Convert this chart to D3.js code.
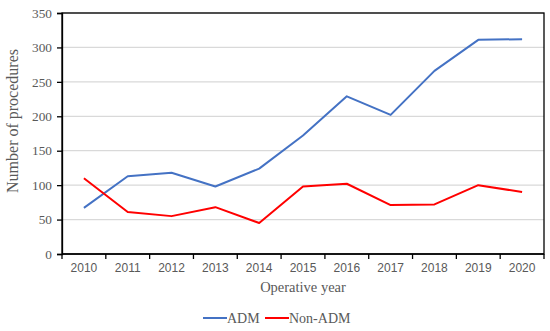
<!DOCTYPE html>
<html>
<head>
<meta charset="utf-8">
<script src="https://cdn.jsdelivr.net/npm/d3@7/dist/d3.min.js"></script>
<style>
  body { margin: 0; background: #fff; }
  svg { display: block; }
</style>
</head>
<body>
<svg id="chart" width="550" height="331"></svg>
<script>
const years = ["2010","2011","2012","2013","2014","2015","2016","2017","2018","2019","2020"];
const admValues = [67, 113, 118, 98, 124, 172, 229, 202, 266, 311, 312];
const nonAdmValues = [110, 61, 55, 68, 45, 98, 102, 71, 72, 100, 90];
const yTicks = [0, 50, 100, 150, 200, 250, 300, 350];
const seriesNames = ["ADM", "Non-ADM"];
const seriesColors = ["#4472C4", "#FF0000"];

const margin = {left: 62, top: 13, right: 6, bottom: 77};
const width = 550, height = 331;
const svg = d3.select("#chart");

const x = d3.scaleBand().domain(years).range([margin.left, width - margin.right]).paddingInner(0).paddingOuter(0);
const y = d3.scaleLinear().domain([0, 350]).range([height - margin.bottom, margin.top]);

// gridlines
svg.append("g").selectAll("line").data(yTicks.filter(d => d > 0)).join("line")
  .attr("x1", margin.left).attr("x2", width - margin.right)
  .attr("y1", d => y(d)).attr("y2", d => y(d))
  .attr("stroke", "#d9d9d9").attr("stroke-width", 1.3);

// frame
svg.append("rect")
  .attr("x", margin.left).attr("y", y(350))
  .attr("width", width - margin.right - margin.left)
  .attr("height", y(0) - y(350))
  .attr("fill", "none").attr("stroke", "#000").attr("stroke-width", 1.3);

// y axis
const yAxis = svg.append("g").attr("transform", `translate(${margin.left},0)`)
  .call(d3.axisLeft(y).tickValues(yTicks).tickSize(5).tickPadding(5));
yAxis.select(".domain").attr("stroke", "#000").attr("stroke-width", 1.3);
yAxis.selectAll(".tick line").attr("stroke", "#000").attr("stroke-width", 1.3);
yAxis.selectAll("text").attr("font-family", "'Liberation Serif', 'Times New Roman', serif")
  .attr("font-size", 13.3).attr("fill", "#595959");

// x axis: ticks at band boundaries
const xAxisG = svg.append("g").attr("transform", `translate(0,${y(0)})`);
xAxisG.append("line").attr("x1", margin.left).attr("x2", width - margin.right)
  .attr("y1", 0).attr("y2", 0).attr("stroke", "#000").attr("stroke-width", 1.3);
const boundaries = years.map(d => x(d)).concat([x(years[years.length-1]) + x.bandwidth()]);
xAxisG.selectAll("line.tk").data(boundaries).join("line").attr("class", "tk")
  .attr("x1", d => d).attr("x2", d => d).attr("y1", 0).attr("y2", 5)
  .attr("stroke", "#000").attr("stroke-width", 1.3);
xAxisG.selectAll("text").data(years).join("text")
  .attr("x", d => x(d) + x.bandwidth()/2).attr("y", 18)
  .attr("text-anchor", "middle")
  .attr("font-family", "'Liberation Sans', Arial, sans-serif")
  .attr("font-size", 12).attr("fill", "#595959").text(d => d);

// lines
const line = d3.line().x((d, i) => x(years[i]) + x.bandwidth()/2).y(d => y(d));
[admValues, nonAdmValues].forEach((vals, k) => {
  svg.append("path").datum(vals).attr("d", line)
    .attr("fill", "none").attr("stroke", seriesColors[k]).attr("stroke-width", 2)
    .attr("stroke-linejoin", "round");
});

// axis titles
svg.append("text").attr("x", (margin.left + width - margin.right)/2).attr("y", 292)
  .attr("text-anchor", "middle")
  .attr("font-family", "'Liberation Serif', 'Times New Roman', serif")
  .attr("font-size", 14.5).attr("fill", "#595959").text("Operative year");

svg.append("text").attr("transform", `translate(18,121) rotate(-90)`)
  .attr("text-anchor", "middle")
  .attr("font-family", "'Liberation Serif', 'Times New Roman', serif")
  .attr("font-size", 16).attr("fill", "#595959").text("Number of procedures");

// legend
const legendItems = [{x: 203}, {x: 265}];
seriesNames.forEach((name, k) => {
  const lx = legendItems[k].x;
  svg.append("line").attr("x1", lx).attr("x2", lx + 24).attr("y1", 318).attr("y2", 318)
    .attr("stroke", seriesColors[k]).attr("stroke-width", 2);
  svg.append("text").attr("x", lx + 24).attr("y", 322.5)
    .attr("font-family", "'Liberation Serif', 'Times New Roman', serif")
    .attr("font-size", 14).attr("fill", "#595959").text(name);
});
</script>
</body>
</html>
